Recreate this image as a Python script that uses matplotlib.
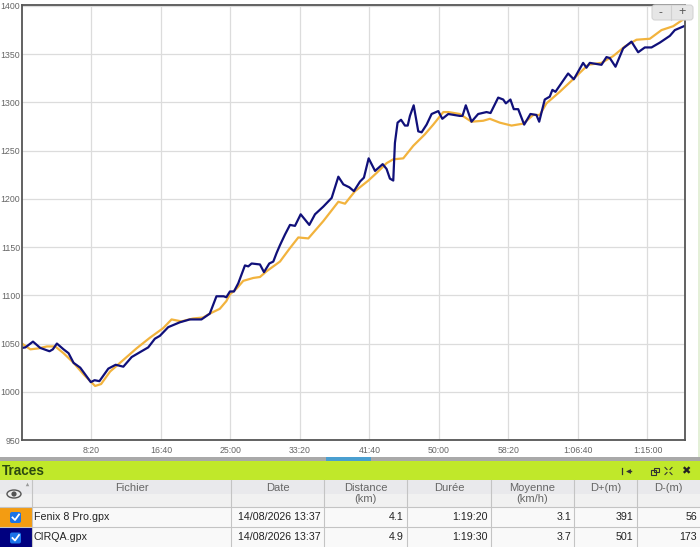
#!/usr/bin/env python3
"""Elevation profile of two GPX traces with the table panel below it."""
import matplotlib
matplotlib.use("Agg")
import matplotlib.pyplot as plt
from matplotlib.patches import FancyBboxPatch, Rectangle, Ellipse, Circle

plt.rcParams["font.family"] = ["Liberation Sans", "DejaVu Sans"]

# seconds, metres
orange_t = [0, 60, 119, 179, 239, 299, 371, 443, 526, 569, 634, 729, 824, 920, 1016, 1076, 1147, 1231,
            1303, 1351, 1423, 1470, 1496, 1544, 1592, 1664, 1712, 1760, 1856, 1928, 1988, 2060, 2168,
            2276, 2324, 2396, 2492, 2552, 2623, 2671, 2743, 2815, 2899, 2959, 3031, 3067, 3150, 3234,
            3318, 3366, 3438, 3522, 3606, 3678, 3725, 3773, 3869, 3965, 4073, 4169, 4253, 4337, 4421,
            4517, 4601, 4685, 4757]
orange_e = [1050, 1044, 1045, 1047, 1047, 1040, 1030, 1018, 1006, 1008, 1021, 1033, 1045, 1056, 1066, 1075, 1073, 1076,
            1077, 1081, 1086, 1094, 1101, 1107, 1115, 1118, 1119, 1125, 1135, 1149, 1160, 1159, 1177,
            1197, 1195, 1208, 1219, 1227, 1237, 1241, 1242, 1255, 1267, 1277, 1290, 1290, 1288, 1280,
            1281, 1283, 1279, 1276, 1278, 1287, 1287, 1299, 1311, 1324, 1339, 1341, 1348, 1358, 1365,
            1366, 1375, 1379, 1386]

navy_t = [0, 24, 79, 131, 198, 222, 251, 299, 335, 371, 419, 495, 522, 557, 621, 674, 729, 789, 860, 908,
          956, 992, 1052, 1135, 1207, 1291, 1351, 1399, 1451, 1470, 1496, 1525, 1556, 1604, 1628, 1652,
          1712, 1741, 1779, 1808, 1832, 1856, 1892, 1928, 1964, 2005, 2067, 2108, 2168, 2228, 2276, 2312,
          2355, 2388, 2432, 2460, 2494, 2540, 2595, 2623, 2647, 2671, 2683, 2702, 2727, 2755, 2775, 2791,
          2818, 2851, 2875, 2911, 2947, 2995, 3024, 3067, 3150, 3169, 3193, 3234, 3282, 3342, 3371, 3426,
          3462, 3481, 3514, 3538, 3570, 3613, 3658, 3701, 3721, 3761, 3797, 3816, 3838, 3857, 3929, 3970,
          4037, 4061, 4085, 4169, 4205, 4229, 4270, 4325, 4385, 4433, 4481, 4529, 4589, 4661, 4697, 4762]
navy_e = [1045.5, 1046, 1052, 1045.5, 1042, 1044, 1050, 1044, 1040, 1030, 1025, 1010, 1012, 1011, 1024, 1028, 1026, 1036, 1042, 1046,
          1055, 1058, 1067, 1072, 1075, 1075, 1081, 1099, 1099, 1098, 1104, 1104, 1112.5, 1131, 1130, 1133,
          1132, 1124, 1133, 1135, 1144, 1152, 1163, 1173, 1172, 1184, 1173, 1184, 1192, 1201, 1223, 1215,
          1212, 1208, 1218, 1222, 1242, 1229, 1236, 1231, 1221, 1219, 1258, 1279, 1282, 1276, 1276, 1286,
          1297, 1270, 1269, 1277, 1288, 1291, 1283, 1288, 1286, 1286, 1297, 1280, 1288, 1290, 1289, 1305,
          1303, 1299, 1303, 1293, 1293, 1277, 1288, 1287, 1280, 1303, 1306, 1313, 1311, 1315, 1330, 1324,
          1341, 1336, 1341, 1339, 1347, 1346, 1337, 1356, 1363, 1352, 1357, 1357, 1362, 1369, 1375, 1379]

x_ticks = [500, 1000, 1500, 2000, 2500, 3000, 3500, 4000, 4500]
x_labels = ["8:20", "16:40", "25:00", "33:20", "41:40", "50:00", "58:20", "1:06:40", "1:15:00"]
y_ticks = [950, 1000, 1050, 1100, 1150, 1200, 1250, 1300, 1350, 1400]

headers = ["Fichier", "Date", "Distance\n(km)", "Durée", "Moyenne\n(km/h)", "D+(m)", "D-(m)"]
row_names = ["Fenix 8 Pro.gpx", "CIRQA.gpx"]
row_dates = ["14/08/2026 13:37", "14/08/2026 13:37"]
row_dist = ["4.1", "4.9"]
row_time = ["1:19:20", "1:19:30"]
row_speed = ["3.1", "3.7"]
row_up = ["391", "501"]
row_down = ["56", "173"]
row_colors = ["#f39c12", "#00007f"]

W, H = 700, 547
fig = plt.figure(figsize=(W / 100, H / 100), dpi=100, facecolor="white")

# chart
ax = fig.add_axes([22 / W, 1 - 440 / H, (685 - 22) / W, (440 - 5) / H])
ax.plot(orange_t, orange_e, color="#f2b33d", lw=1.6, solid_joinstyle="round")
ax.plot(navy_t, navy_e, color="#10107a", lw=1.6, solid_joinstyle="round")
ax.set_xlim(0, 4770)
ax.set_ylim(950, 1401)
ax.set_xticks(x_ticks)
ax.set_xticklabels(x_labels)
ax.set_yticks(y_ticks)
ax.grid(True, color="#dcdcdc", lw=0.9)
ax.set_axisbelow(True)
ax.tick_params(length=0, labelsize=6.3, labelcolor="#666666", pad=1.5)
ax.tick_params(axis="x", pad=4)
for s in ax.spines.values():
    s.set_color("#555555")
    s.set_linewidth(1.3)

# everything below is page furniture, laid out in pixels
ui = fig.add_axes([0, 0, 1, 1], zorder=5)
ui.set_xlim(0, W)
ui.set_ylim(H, 0)
ui.axis("off")


def rect(x0, y0, x1, y1, color, **kw):
    ui.add_patch(Rectangle((x0, y0), x1 - x0, y1 - y0, facecolor=color, edgecolor="none", **kw))


# pale strip on the right edge
rect(698, 0, 700, 457, "#e4f0d8")

# zoom buttons
ui.add_patch(FancyBboxPatch((652, 5), 41, 15, boxstyle="round,pad=0,rounding_size=3",
                            facecolor="#e6e6e6", edgecolor="#d4d4d4", lw=0.8))
ui.plot([671, 671], [5, 20], color="#d0d0d0", lw=0.8)
ui.text(660, 13, "-", ha="center", va="center", fontsize=8.5, color="#555555")
ui.text(682, 12.5, "+", ha="center", va="center", fontsize=9, color="#555555")

# splitter and title bar
rect(0, 457, 700, 461, "#a9a9a9")
rect(326, 457, 371, 461, "#4a9fd0")
rect(0, 461, 700, 480, "#c0e82a")
ui.text(2, 471, "Traces", ha="left", va="center", fontsize=9.8, fontweight="bold", color="#2c4a10")
ui.plot([622, 622], [468, 474], color="#333333", lw=0.9)
ui.plot([628], [471], marker="<", ms=3.5, color="#333333", mew=0)
ui.plot([628, 631], [471, 471], color="#333333", lw=1)
ui.add_patch(Rectangle((651, 470), 5, 4.5, facecolor="none", edgecolor="#333333", lw=0.8))
ui.add_patch(Rectangle((653.5, 467.5), 5.5, 4.5, facecolor="none", edgecolor="#333333", lw=0.8))
for dx, dy in [(-1, -1), (1, -1), (-1, 1), (1, 1)]:
    ui.plot([668.5 + dx * 1.5, 668.5 + dx * 3.5], [471 + dy * 1.5, 471 + dy * 3.5], color="#333333", lw=0.8)
ui.text(686, 471, "✖", ha="center", va="center", fontsize=8, color="#222222")

# table header
rect(0, 480, 700, 494, "#e9e9ec")
rect(0, 494, 700, 507, "#f1f1f1")
rect(0, 507, 700, 547, "#f9f9f9")
col_edges = [32, 231, 324, 407, 491, 574, 637, 700]
for i, h in enumerate(headers):
    xc = (col_edges[i] + col_edges[i + 1]) / 2
    ui.text(xc, 483, h, ha="center", va="top", fontsize=8, color="#666666", linespacing=1.15)
for x in col_edges[:-1]:
    ui.plot([x, x], [480, 547], color="#c4c4c4", lw=0.8)
for y in [507, 527]:
    ui.plot([0, 700], [y, y], color="#c4c4c4", lw=0.8)

# eye icon
ui.add_patch(Ellipse((14, 494), 14, 8, facecolor="#eeeeee", edgecolor="#555555", lw=1))
ui.add_patch(Circle((14, 494), 2.6, facecolor="#555555", edgecolor="none"))
ui.plot([27], [484], marker="^", ms=2.5, color="#999999", mew=0)

# rows
row_y = [517, 537.5]
for i, y in enumerate(row_y):
    rect(0, y - 10, 32, y + 9.5, row_colors[i])
    ui.add_patch(FancyBboxPatch((10, y - 5), 11, 11, boxstyle="round,pad=0,rounding_size=2",
                                facecolor="#1a73e8", edgecolor="none"))
    ui.plot([12.5, 15, 19], [y + 0.5, y + 3, y - 2.5], color="white", lw=1.3)
    ui.text(34, y, row_names[i], ha="left", va="center", fontsize=7.7, color="#222222")
    ui.text(321, y, row_dates[i], ha="right", va="center", fontsize=7.7, color="#222222")
    for vals, right in [(row_dist, 404), (row_time, 488), (row_speed, 571), (row_up, 633), (row_down, 697)]:
        ui.text(right, y, vals[i], ha="right", va="center", fontsize=7.7, color="#222222")

fig.savefig("out.png", dpi=100)
